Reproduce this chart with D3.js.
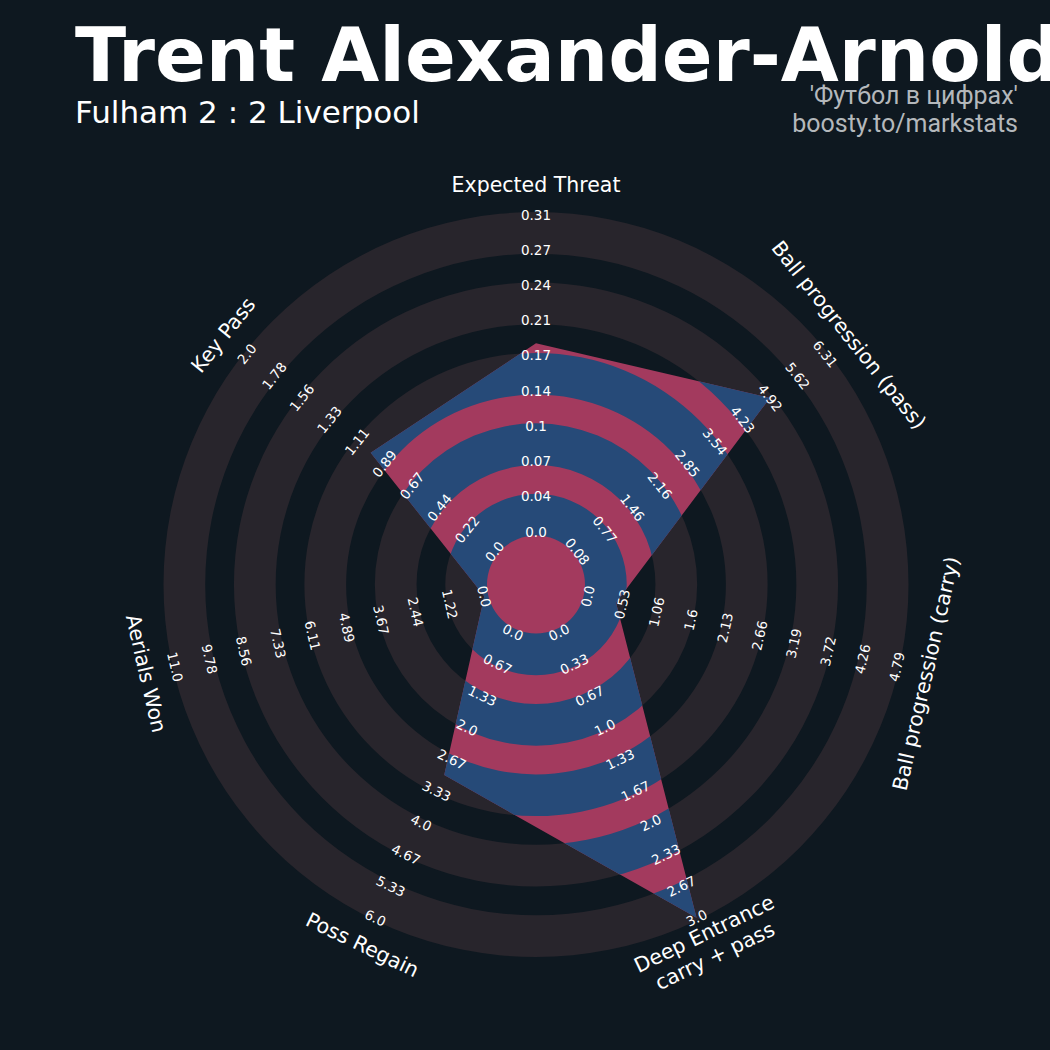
<!DOCTYPE html>
<html><head><meta charset="utf-8">
<script src="https://cdn.jsdelivr.net/npm/d3@7"></script>
<style>html,body{margin:0;padding:0;background:#0e1820;} svg{display:block}</style>
</head><body>
<svg id="chart" width="1050" height="1050"></svg>
<script>
// ---------- data ----------
const params = ["Expected Threat", "Ball progression (pass)", "Ball progression (carry)",
  "Deep Entrance\ncarry + pass", "Poss Regain", "Aerials Won", "Key Pass"];
const lows  = [0, 0.08, 0, 0, 0, 0, 0];
const highs = [0.31, 6.31, 4.79, 3.0, 6.0, 11.0, 2.0];
const values = [0.184, 4.92, 0.44, 3.0, 3.0, 0, 1.0];
const tickLabels = [
  ["0.0","0.04","0.07","0.1","0.14","0.17","0.21","0.24","0.27","0.31"],
  ["0.08","0.77","1.46","2.16","2.85","3.54","4.23","4.92","5.62","6.31"],
  ["0.0","0.53","1.06","1.6","2.13","2.66","3.19","3.72","4.26","4.79"],
  ["0.0","0.33","0.67","1.0","1.33","1.67","2.0","2.33","2.67","3.0"],
  ["0.0","0.67","1.33","2.0","2.67","3.33","4.0","4.67","5.33","6.0"],
  ["0.0","1.22","2.44","3.67","4.89","6.11","7.33","8.56","9.78","11.0"],
  ["0.0","0.22","0.44","0.67","0.89","1.11","1.33","1.56","1.78","2.0"]
];
const title = "Trent Alexander-Arnold";
const subtitle = "Fulham 2 : 2 Liverpool";
const credits = ["'Футбол в цифрах'", "boosty.to/markstats"];

// ---------- style ----------
const BG = "#0e1820", RING = "#28252c", POLY = "#a33a5e", INNER = "#264a78";
const cx = 536, cy = 584.5;
const svg = d3.select("#chart");
svg.append("rect").attr("width",1050).attr("height",1050).attr("fill",BG);
const g = svg.append("g").attr("transform",`translate(${cx},${cy})`);

const n = params.length;
const angle = i => i * 2 * Math.PI / n;             // radians, clockwise from top
const idxScale = d3.scaleLinear().domain([0, 9]).range([53, 370]);
const valScales = params.map((p,i) => d3.scaleLinear().domain([lows[i], highs[i]]).range(idxScale.range()));

const ringData = d3.range(5).map(k => ({inner: idxScale(2*k) - 4, outer: idxScale(2*k+1) + 2.5}));
const arc = d3.arc().startAngle(0).endAngle(2*Math.PI)
  .innerRadius(d => d.inner).outerRadius(d => d.outer);

// background rings
g.selectAll("path.ring").data(ringData).join("path").attr("class","ring")
  .attr("d", arc).attr("fill", RING);

// radar polygon
const radial = d3.lineRadial()
  .angle((d,i) => angle(i))
  .radius((d,i) => valScales[i](d))
  .curve(d3.curveLinearClosed);
const polyD = radial(values);
g.append("path").attr("d", polyD).attr("fill", POLY);
g.append("circle").attr("r", idxScale(0) - 4).attr("fill", POLY);

svg.append("defs").append("clipPath").attr("id","polyClip")
  .append("path").attr("d", polyD).attr("transform",`translate(${cx},${cy})`);
svg.append("g").attr("clip-path","url(#polyClip)")
  .append("g").attr("transform",`translate(${cx},${cy})`)
  .selectAll("path").data(ringData).join("path")
  .attr("d", arc).attr("fill", INNER);

const lg = svg.append("g").attr("transform",`translate(${cx},${cy})`);

// rotation so text stays upright
function rot(i) {
  const deg = i * 360 / n;
  if (deg <= 90) return deg;
  if (deg >= 270) return deg - 360;
  return deg - 180;
}
const pos = (i, r) => [Math.sin(angle(i)) * r, -Math.cos(angle(i)) * r];

// range labels
params.forEach((p, i) => {
  tickLabels[i].forEach((t, j) => {
    const [x, y] = pos(i, idxScale(j));
    lg.append("text").attr("transform", `translate(${x},${y}) rotate(${rot(i)})`)
      .attr("text-anchor","middle").attr("dominant-baseline","central")
      .attr("font-family","DejaVu Sans").attr("font-size",13.5).attr("fill","#ffffff")
      .text(t);
  });
});

// param labels
params.forEach((p, i) => {
  const [x, y] = pos(i, 400);
  const lines = p.split("\n");
  const t = lg.append("text").attr("transform", `translate(${x},${y}) rotate(${rot(i)})`)
    .attr("text-anchor","middle").attr("dominant-baseline","central")
    .attr("font-family","DejaVu Sans").attr("font-size",20.5).attr("fill","#ffffff");
  lines.forEach((l, k) => {
    t.append("tspan").attr("x",0).attr("dy", k === 0 ? `${-(lines.length-1)*0.6}em` : "1.2em").text(l);
  });
});

// titles
svg.append("text").attr("x",75).attr("y",81).attr("font-family","DejaVu Sans")
  .attr("font-weight","bold").attr("font-size",75).attr("fill","#ffffff").text(title);
svg.append("text").attr("x",75).attr("y",123).attr("font-family","DejaVu Sans")
  .attr("font-size",31).attr("fill","#ffffff").text(subtitle);
credits.forEach((c, k) => {
  svg.append("text").attr("x",1018).attr("y",104 + k*28).attr("text-anchor","end")
    .attr("font-family","Roboto").attr("font-size",25).attr("fill","#b4b8bc").text(c);
});
</script>
</body></html>
